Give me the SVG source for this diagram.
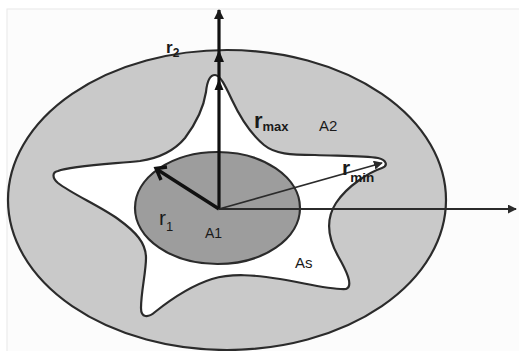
<svg xmlns="http://www.w3.org/2000/svg" width="519" height="351" viewBox="0 0 519 351">
<style>
.outline{stroke:#2b2b2b;stroke-width:2.2}
.lbl{font-family:"Liberation Sans",Arial,sans-serif;fill:#1a1a1a}
.b{font-weight:bold}
</style>
<defs>
<marker id="tri" viewBox="0 0 10 10" refX="9" refY="5" markerWidth="10" markerHeight="10" markerUnits="userSpaceOnUse" orient="auto"><path d="M0,0 L10,5 L0,10 Z" fill="#1a1a1a"/></marker>
<marker id="triS" viewBox="0 0 10 10" refX="9" refY="5" markerWidth="9" markerHeight="9" markerUnits="userSpaceOnUse" orient="auto"><path d="M0,0 L10,5 L0,10 Z" fill="#2b2b2b"/></marker>
</defs>
<rect x="0" y="0" width="519" height="351" fill="#ffffff"/>
<rect x="7" y="9" width="520" height="350" fill="#fcfcfc" stroke="#e8e8e8" stroke-width="1"/>
<g id="outer-ellipse"><ellipse cx="227" cy="200" rx="219" ry="150" fill="#c9c9c9" class="outline"/></g>
<g id="star"><path class="outline" fill="#ffffff" d="M215,75 C220,75 225,85 232,100 C240,117 252,135 264,145 C275,154 290,155 315,155 C340,156 365,156 378,158 C387,160 388,166 382,168 C370,172 348,185 336,203 C325,220 328,238 338,256 C346,270 354,286 346,289 C330,290 305,283 280,279 C255,275 232,273 212,279 C190,286 170,300 155,312 C148,318 141,318 141,308 C141,292 146,272 146,258 C146,243 136,232 118,219 C100,206 72,194 58,183 C52,178 52,172 58,171 C70,166 110,164 140,161 C160,158 175,150 185,138 C197,122 204,105 206,92 C207,82 209,75 215,75 Z"/></g>
<g id="inner-ellipse"><ellipse cx="217.5" cy="208" rx="82.5" ry="56" fill="#9d9d9d" class="outline"/></g>
<g id="connectors">
<line x1="219" y1="209" x2="516" y2="209" stroke="#2b2b2b" stroke-width="2.2" marker-end="url(#triS)"/>
<line x1="219" y1="209" x2="219" y2="10" stroke="#111" stroke-width="3.2" marker-end="url(#tri)"/>
<path d="M214,62 L219,50 L224,62 Z" fill="#111"/>
<path d="M214.5,90 L219,79 L223.5,90 Z" fill="#111"/>
<line x1="219" y1="209" x2="382" y2="163" stroke="#2b2b2b" stroke-width="1.6" marker-end="url(#triS)"/>
<line x1="219" y1="209" x2="158" y2="170" stroke="#111" stroke-width="3.4"/>
<path d="M167,167 L156,168.5 L161,180" fill="none" stroke="#111" stroke-width="3.4" stroke-linejoin="miter"/>
</g>
<g id="labels">
<text class="lbl b" x="166" y="53" font-size="17">r<tspan font-size="12" dy="4">2</tspan></text>
<text class="lbl b" x="254" y="128" font-size="22">r<tspan font-size="13" dy="3">max</tspan></text>
<text class="lbl" x="319" y="131" font-size="15">A2</text>
<text class="lbl b" x="342" y="175" font-size="21">r<tspan font-size="13.5" dy="7">min</tspan></text>
<text class="lbl" x="159" y="225" font-size="21">r<tspan font-size="13" dy="6">1</tspan></text>
<text class="lbl" x="205" y="238" font-size="14">A1</text>
<text class="lbl" x="295" y="268" font-size="15">As</text>
</g>
</svg>
